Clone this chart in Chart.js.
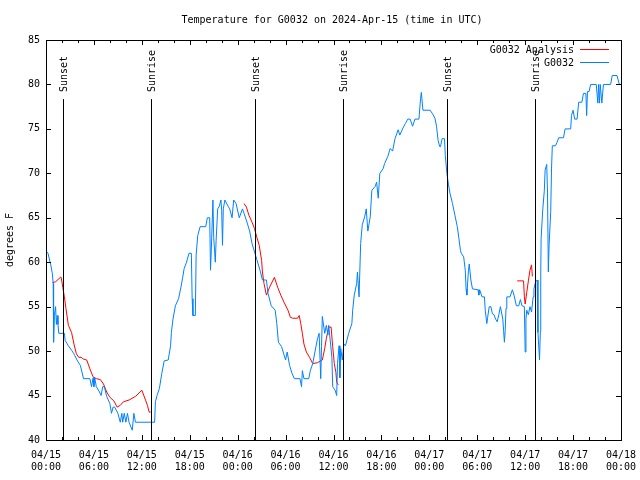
<!DOCTYPE html>
<html>
<head>
<meta charset="utf-8">
<script src="https://cdn.jsdelivr.net/npm/chart.js@4.4.0/dist/chart.umd.min.js"></script>
<style>
  html, body { margin: 0; padding: 0; background: #fff; }
  #wrap { width: 640px; height: 480px; }
</style>
</head>
<body>
<div id="wrap"><canvas id="myChart" width="640" height="480"></canvas></div>
<script>
// hours since 04/15 00:00 UTC
var obsHours = [0.0,0.25,0.6,0.8,0.9,0.95,1.05,1.2,1.3,1.4,1.5,1.6,2.3,2.4,2.8,3.2,3.5,3.6,4.0,4.3,4.7,5.5,5.7,5.9,6.0,6.1,6.3,6.7,6.9,7.1,7.3,7.6,8.0,8.2,8.4,8.6,9.0,9.3,9.5,9.6,9.8,10.0,10.2,10.4,10.8,11.0,11.2,12.0,13.0,13.6,13.7,13.9,14.2,14.5,14.8,15.3,15.6,15.7,15.9,16.2,16.6,16.9,17.1,17.3,17.6,17.9,18.2,18.3,18.4,18.7,18.8,19.0,19.3,20.0,20.2,20.5,20.6,20.7,20.9,21.0,21.2,21.3,21.5,21.7,21.9,22.0,22.1,22.2,22.4,22.8,23.0,23.3,23.5,23.8,24.2,24.6,24.8,25.2,25.5,25.8,26.0,26.4,26.8,27.1,27.6,27.8,28.2,28.7,28.9,29.1,29.5,29.7,30.0,30.2,30.5,30.8,31.1,31.8,32.0,32.1,32.3,32.9,33.1,33.4,33.8,34.0,34.2,34.4,34.5,34.6,34.9,35.1,35.3,35.4,35.8,35.9,36.2,36.4,36.5,36.7,36.8,36.9,37.1,37.3,37.5,37.9,38.3,38.4,38.6,38.9,39.0,39.2,39.4,39.6,39.9,40.1,40.3,40.6,40.8,41.2,41.4,41.6,41.8,42.2,42.4,42.8,43.1,43.4,43.7,44.1,44.3,44.7,45.0,45.3,45.6,45.9,46.2,46.7,46.9,47.0,47.2,48.1,48.4,48.7,48.9,49.1,49.3,49.4,49.6,49.9,50.0,50.2,50.4,50.6,50.9,51.2,51.5,51.7,51.9,52.0,52.3,52.5,52.6,52.7,52.9,53.0,53.2,53.4,54.1,54.2,54.3,54.6,54.9,55.0,55.2,55.3,55.5,55.7,55.9,56.1,56.3,56.5,56.7,56.9,57.2,57.3,57.4,57.5,57.6,57.7,58.1,58.4,58.6,58.9,59.2,59.4,59.6,59.9,60.0,60.1,60.2,60.4,60.6,60.8,61.0,61.1,61.3,61.5,61.6,61.8,61.9,61.95,62.0,62.2,62.4,62.5,62.7,62.8,62.9,63.0,63.2,63.3,63.4,63.8,64.0,64.2,64.8,65.0,65.7,65.8,66.0,66.2,66.5,66.7,67.1,67.3,67.6,67.7,67.8,68.0,68.2,68.9,69.1,69.2,69.3,69.4,69.6,69.8,70.7,70.9,71.5,71.8,72.0];
var obsTemps = [61.3,61.0,59.7,58.7,57.6,51.0,54,55,53,54,53,52,52,51.2,50.6,50.1,49.7,49.5,48.8,48.4,46.9,46.9,46.0,47,46,47,46,45.4,45,46,46,44.9,44.1,43,43.7,43.7,43,42,43,42,43,42,43,42,41.1,43,42,42,42,42,44.3,45,45.8,47.5,48.9,49,50.6,52.1,53.6,55.1,55.9,57.2,58.2,59.3,60,61,61,55.9,54,54,60.8,63,64,64,65,65,59.1,61.4,67,62.8,60,62.4,66,66.3,67,65.8,61.9,66,67,66.3,66,65,67,66.6,65,66,65.5,64.4,63.5,62.1,61.5,60.3,59.1,58,58,56.5,55.1,54.6,53.1,51,50.5,49.9,49,49.9,48.4,47.5,46.9,46.9,46,47.8,46.9,46.9,47.8,48.6,50.5,51.4,52,46.9,50.5,53.9,52,52.9,51.8,52.9,49.3,46,45.6,45,48.6,50.6,47,50.3,49,50.8,50.6,52,53.1,54.6,56.3,57.6,58.9,56.1,62.1,64.2,65.1,66,63.5,65.1,68.1,68.5,69,67.2,70,70.5,71.1,71.9,72.8,72.5,73.9,74.9,74.3,75.1,75.6,76.1,76.1,75.3,76.1,76.1,78.4,79.1,77.1,77.1,76.7,76.2,75.3,73.7,73,73,73.9,73.9,72,70,68.7,67.7,66.6,65.3,64,62.7,61.3,61,60.6,59.1,57,56.3,59.1,59.8,58,57,56.9,56.3,56.9,56.1,56.1,54.6,53.1,53.8,55,55,54.2,54.1,53.6,53.3,54.1,55,53.6,52.3,51,52.3,54.8,56.1,56.1,56.9,56.3,55.1,55.1,55.8,55.1,55,49.9,53.6,54.6,54.1,55,54.4,56.1,57,57.8,58,52.1,49,52.2,58.7,62.7,65.9,68.1,70.4,71,67.8,58.9,62,65.7,70.5,73.1,73.1,73.5,74,74,75,75,76.5,77.1,76.1,76.1,78,78,79,79,76.5,79.2,79.2,80,80,77.9,80,77.9,80,77.9,80,80,81,81,80,80];

// analysis runs, null separates the three runs
var analysisHours = [0.8,1.2,1.8,1.9,2.1,2.3,2.5,2.8,3.2,3.5,3.8,4.1,4.4,4.7,5.1,5.5,5.9,6.3,6.8,7.2,7.6,8.0,8.5,8.9,9.3,9.7,10.4,11.2,12.0,12.5,12.7,12.9,13.0,
  18.0,
  24.8,25.1,25.4,25.8,26.1,26.4,26.7,27.0,27.1,27.3,27.6,28.0,28.6,29.0,29.4,29.8,30.3,30.6,30.9,31.5,31.7,31.9,32.1,32.3,32.6,33.0,33.4,34.0,34.6,34.9,35.1,35.4,35.7,35.9,36.1,36.3,36.4,36.6,
  48.0,
  59.0,59.8,59.9,60.0,60.2,60.4,60.6,60.8,60.9];
var analysisTemps = [57.7,57.8,58.3,58.3,57.2,56.1,54.8,52.9,52.1,50.8,49.7,49.3,49.3,49.1,49,48,47.1,46.9,46.8,46.3,45.4,44.8,44.4,43.7,43.9,44.3,44.5,44.9,45.6,44.4,43.9,43.2,43.1,
  null,
  66.6,66.2,65.3,64.5,63.8,62.8,61.9,60.2,58.9,57.6,56.3,57.2,58.3,57.2,56.3,55.5,54.6,53.8,53.7,53.7,54,53.1,52,50.8,49.9,49.3,48.6,48.7,49,50.3,51.4,52.7,52.7,50.5,48.6,47.6,46.5,46.2,
  null,
  57.9,57.9,56.1,55.3,56.6,57.9,59.1,59.7,58.4];

var eventHours = [2.17, 13.19, 26.2, 37.23, 50.25, 61.2];
var eventLabels = ["Sunset", "Sunrise", "Sunset", "Sunrise", "Sunset", "Sunrise"];

var dayLabels = ["04/15", "04/16", "04/17", "04/18"];
var yTicks = [40, 45, 50, 55, 60, 65, 70, 75, 80, 85];

var FONT = "DejaVu Sans Mono";

function pts(xs, ys) {
  return xs.map(function (h, i) { return { x: h, y: ys[i] }; });
}

function pad2(n) { return (n < 10 ? "0" : "") + n; }

var gnuplotBits = {
  id: 'gnuplotBits',
  afterDraw: function (chart) {
    var c = chart.ctx, a = chart.chartArea;
    var xs = chart.scales.x, ys = chart.scales.y;
    c.save();
    c.strokeStyle = '#000';
    c.lineWidth = 1;
    // box
    c.strokeRect(Math.round(a.left) + 0.5, Math.round(a.top) + 0.5,
      Math.round(a.right - a.left), Math.round(a.bottom - a.top));
    // x ticks (inside, bottom and top)
    c.beginPath();
    for (var h = 0; h <= 72; h += 2) {
      var px = Math.round(xs.getPixelForValue(h)) + 0.5;
      var len = (h % 6 === 0) ? 5 : 3;
      c.moveTo(px, a.bottom); c.lineTo(px, a.bottom - len);
      c.moveTo(px, a.top); c.lineTo(px, a.top + len);
    }
    // y ticks (inside, left and right)
    yTicks.forEach(function (t) {
      var py = Math.round(ys.getPixelForValue(t)) + 0.5;
      c.moveTo(a.left, py); c.lineTo(a.left + 5, py);
      c.moveTo(a.right, py); c.lineTo(a.right - 5, py);
    });
    c.stroke();

    // sunrise / sunset markers
    c.font = '10px "' + FONT + '"';
    c.fillStyle = '#000';
    eventHours.forEach(function (h, i) {
      var px = Math.round(xs.getPixelForValue(h)) + 0.5;
      c.beginPath();
      c.moveTo(px, a.bottom);
      c.lineTo(px, ys.getPixelForValue(78.35));
      c.stroke();
      c.save();
      c.translate(px + 1, 92);
      c.rotate(-Math.PI / 2);
      c.textAlign = 'left';
      c.textBaseline = 'middle';
      c.fillText(eventLabels[i], 0, 0);
      c.restore();
    });

    // key
    c.textAlign = 'right';
    c.textBaseline = 'middle';
    chart.data.datasets.forEach(function (ds, i) {
      var ky = 50 + i * 13;
      c.fillStyle = '#000';
      c.fillText(ds.label, 574, ky);
      c.strokeStyle = ds.borderColor;
      c.beginPath();
      c.moveTo(580, ky - 0.5); c.lineTo(609, ky - 0.5);
      c.stroke();
    });

    // title
    c.fillStyle = '#000';
    c.textAlign = 'center';
    c.fillText('Temperature for G0032 on 2024-Apr-15 (time in UTC)', 332, 20);

    // y title
    c.save();
    c.translate(10, 240);
    c.rotate(-Math.PI / 2);
    c.fillText('degrees F', 0, 0);
    c.restore();
    c.restore();
  }
};

var ctx = document.getElementById("myChart");
var myChart = new Chart(ctx, {
  type: 'line',
  data: {
    datasets: [{
      label: 'G0032 Analysis',
      data: pts(analysisHours, analysisTemps),
      borderColor: 'rgb(255, 0, 0)',
      borderWidth: 1,
      pointRadius: 0,
      tension: 0,
      spanGaps: false,
      order: 1
    }, {
      label: 'G0032',
      data: pts(obsHours, obsTemps),
      borderColor: 'rgb(0, 128, 255)',
      borderWidth: 1,
      pointRadius: 0,
      tension: 0,
      order: 0
    }]
  },
  options: {
    responsive: false,
    animation: false,
    events: [],
    layout: { padding: { top: 40, right: 19, left: 0, bottom: 0 } },
    plugins: {
      legend: { display: false },
      title: { display: false },
      tooltip: { enabled: false }
    },
    scales: {
      x: {
        type: 'linear',
        min: 0,
        max: 72,
        afterBuildTicks: function (s) {
          var t = [];
          for (var h = 0; h <= 72; h += 2) t.push({ value: h });
          s.ticks = t;
        },
        afterFit: function (s) {
          s.height = 40;
          s.paddingLeft = 0;
          s.paddingRight = 0;
        },
        grid: { display: false, drawTicks: false },
        border: { display: false },
        ticks: {
          autoSkip: false,
          maxRotation: 0,
          minRotation: 0,
          padding: 9,
          color: '#000',
          font: { family: FONT, size: 10, lineHeight: 1.2 },
          callback: function (v) {
            if (v % 6 !== 0) return '';
            var day = Math.floor(v / 24);
            return [dayLabels[day], pad2(v % 24) + ':00'];
          }
        }
      },
      y: {
        min: 40,
        max: 85,
        afterFit: function (s) {
          s.width = 46;
          s.paddingTop = 0;
          s.paddingBottom = 0;
        },
        grid: { display: false, drawTicks: false },
        border: { display: false },
        ticks: {
          stepSize: 5,
          padding: 6,
          color: '#000',
          font: { family: FONT, size: 10 }
        }
      }
    }
  },
  plugins: [gnuplotBits]
});
</script>
</body>
</html>
